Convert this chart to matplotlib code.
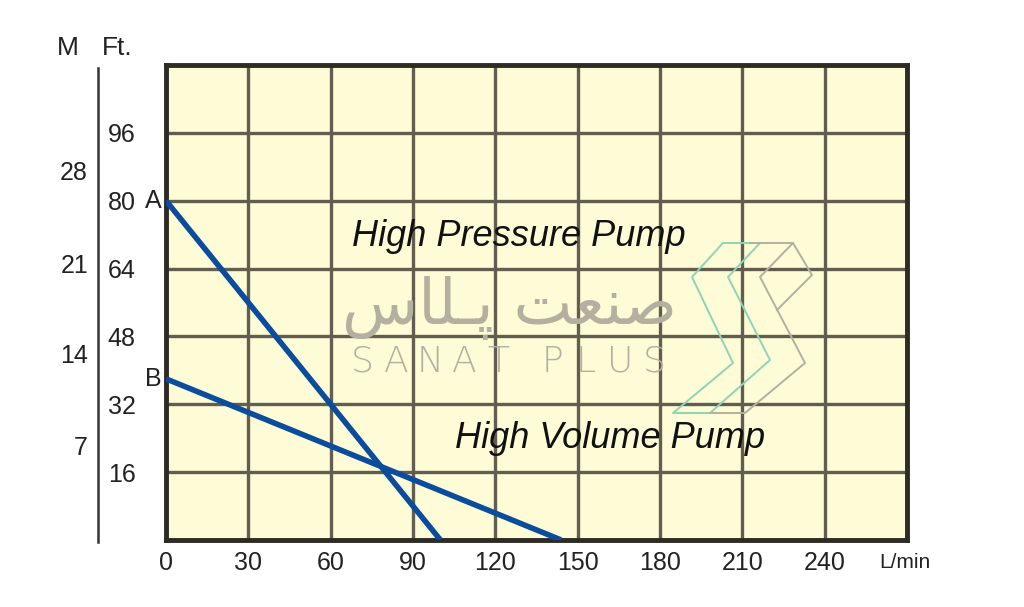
import matplotlib.pyplot as plt
from matplotlib.lines import Line2D

# === Chart data ===
flow_a = [0, 100]      # L/min, high pressure pump (A)
head_a = [80, 0]       # Ft.
flow_b = [0, 144]      # L/min, high volume pump (B)
head_b = [38, 0]       # Ft.

x_ticks = [0, 30, 60, 90, 120, 150, 180, 210, 240, 270]
x_labels = ["0", "30", "60", "90", "120", "150", "180", "210", "240", ""]
y_ticks = [0, 16, 32, 48, 64, 80, 96, 112]
y_labels = ["", "16", "32", "48", "64", "80", "96", ""]
m_labels = ["7", "14", "21", "28"]
m_pos_ft = [21.8, 43.4, 64.5, 86.5]   # where the metre labels sit (in ft)

plt.rcParams['font.family'] = ['Liberation Sans', 'DejaVu Sans']

W, H = 1024, 607
X0, X1, Y0, Y1 = 166, 907, 65, 540   # plot frame in pixels
fig = plt.figure(figsize=(W / 100, H / 100), dpi=100)
fig.patch.set_facecolor("white")


def px(x, y):
    return x / W, 1 - y / H


ax = fig.add_axes([X0 / W, 1 - Y1 / H, (X1 - X0) / W, (Y1 - Y0) / H])
ax.set_facecolor("#fdfcd6")
ax.set_xlim(0, 270)
ax.set_ylim(0, 112)

txt_c = "#222222"
grid_c = "#625d4f"
ax.set_xticks(x_ticks)
ax.set_xticklabels(x_labels, fontsize=18, color=txt_c)
ax.set_yticks(y_ticks)
ax.set_yticklabels(y_labels, fontsize=18, color=txt_c)
ax.tick_params(axis="both", length=0)
ax.tick_params(axis="x", pad=8)
ax.tick_params(axis="y", pad=22)
ax.grid(True, color=grid_c, lw=2.4)
ax.set_axisbelow(True)
for s in ax.spines.values():
    s.set_color("#2e2a24")
    s.set_linewidth(3.5)

# pump curves
blue = "#0c4c9c"
ax.plot(flow_a, head_a, color=blue, lw=4, solid_capstyle="butt", zorder=5)
ax.plot(flow_b, head_b, color=blue, lw=4, solid_capstyle="butt", zorder=5)

ytr = ax.get_yaxis_transform()
ax.text(-0.006, head_a[0], "A", transform=ytr, ha="right", va="center",
        fontsize=18, color=txt_c)
ax.text(-0.006, head_b[0], "B", transform=ytr, ha="right", va="center",
        fontsize=18, color=txt_c)

# metre scale
for lab, yv in zip(m_labels, m_pos_ft):
    ax.text((88 - X0) / (X1 - X0), yv, lab, transform=ytr, ha="right", va="center",
            fontsize=18, color=txt_c)
fig.add_artist(Line2D([98 / W, 98 / W], [1 - 68 / H, 1 - 542 / H],
                      color="#333333", lw=1.8, transform=fig.transFigure))

fig.text(*px(57, 48), "M", fontsize=19, ha="left", va="center", color=txt_c)
fig.text(*px(102, 48), "Ft.", fontsize=19, ha="left", va="center", color=txt_c)
fig.text(*px(879, 563), "L/min", fontsize=15, ha="left", va="center", color=txt_c)

# curve names
fig.text(*px(352, 237), "High Pressure Pump", fontsize=26, style="italic",
         ha="left", va="center", color="#111111", zorder=6)
fig.text(*px(455, 439), "High Volume Pump", fontsize=26, style="italic",
         ha="left", va="center", color="#111111", zorder=6)

# watermark
wm = "#b3b09f"
arabic = "\uFEB1\uFE8E\uFEE0\u0640\uFB58 \uFE96\uFECC\uFEE8\uFEBB"
fig.text(*px(509, 308), arabic, fontsize=45, ha="center", va="center",
         color=wm, family=["DejaVu Sans"], zorder=10)
xc = 362
for ch in "SANAT PLUS":
    if ch == " ":
        xc += 20
        continue
    fig.text(*px(xc, 362), ch, fontsize=26, ha="center", va="center",
             color=wm, family=["DejaVu Sans"], fontweight="light", zorder=10)
    xc += 34

green = "#8fd4b4"
g_pts = [(723, 243), (692, 277), (733, 363), (673, 413), (710, 413),
         (770, 360), (728, 277), (760, 243), (723, 243)]
gr_pts1 = [(750, 243), (793, 243), (812, 275), (777, 310)]
gr_pts2 = [(793, 243), (760, 277), (805, 363), (745, 413), (710, 413)]
for pts, c in [(g_pts, green), (gr_pts1, wm), (gr_pts2, wm)]:
    xs = [p[0] / W for p in pts]
    ys = [1 - p[1] / H for p in pts]
    fig.add_artist(Line2D(xs, ys, color=c, lw=1.4, transform=fig.transFigure, zorder=9))

fig.savefig("out.png", dpi=100)
